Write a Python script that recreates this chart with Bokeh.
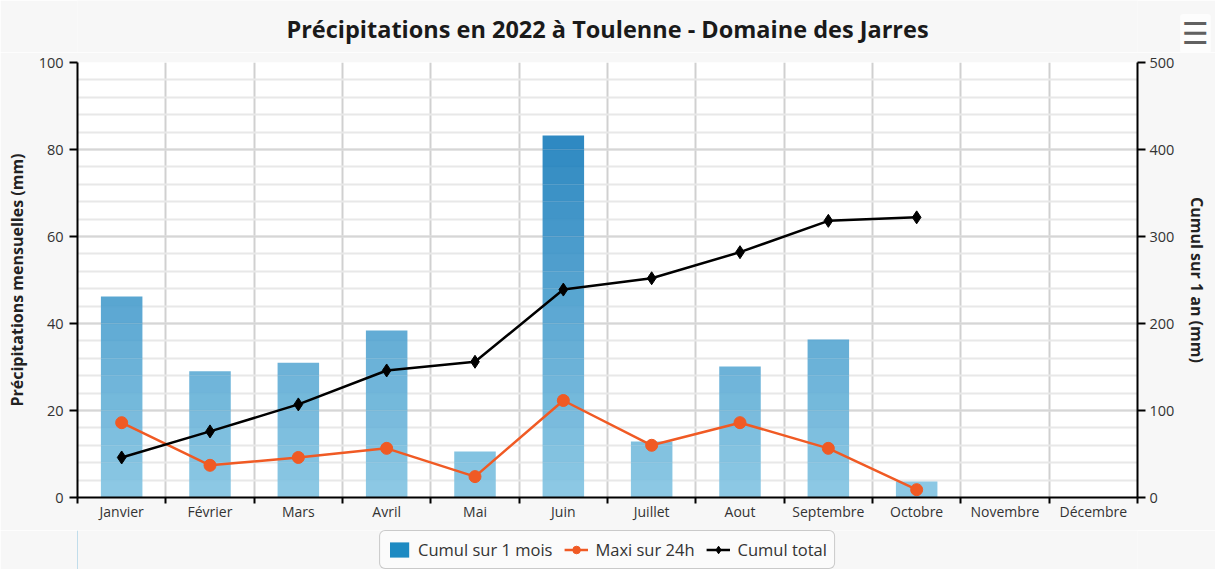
from bokeh.plotting import figure
from bokeh.layouts import column
from bokeh.models import (Range1d, LinearAxis, FixedTicker, Legend, LegendItem,
                          ColumnDataSource, Label)
from bokeh.embed import file_html
from bokeh.resources import INLINE

# ---------------- data ----------------
title_text = "Précipitations en 2022 à Toulenne - Domaine des Jarres"
months = ["Janvier", "Février", "Mars", "Avril", "Mai", "Juin", "Juillet",
          "Aout", "Septembre", "Octobre", "Novembre", "Décembre"]
cumul_mois = [46.2, 29.0, 31.0, 38.4, 10.6, 83.2, 12.9, 30.1, 36.3, 3.7]
maxi_24h = [17.2, 7.4, 9.2, 11.3, 4.8, 22.3, 12.0, 17.2, 11.3, 1.8]
cumul_total = [46, 76, 107, 146, 156, 239, 252, 282, 318, 322]
left_ticks = [0, 20, 40, 60, 80, 100]
right_ticks = [0, 100, 200, 300, 400, 500]
series_names = ["Cumul sur 1 mois", "Maxi sur 24h", "Cumul total"]

FONT = "Open Sans"
TXT = "#333333"
BG = "#f7f7f7"
W = 1215
FRAME_W = 1060
orange = "#f05a24"

# ================= header (title + menu icon) =================
HEAD_H = 52
head = figure(width=W, height=HEAD_H, output_backend="svg", toolbar_location=None,
              x_range=Range1d(0, 1), y_range=Range1d(0, 1),
              x_axis_type=None, y_axis_type=None, min_border=0)
head.grid.visible = False
head.background_fill_color = BG
head.border_fill_color = BG
head.outline_line_color = None
# the header frame is aligned with the chart frame below it
head.add_layout(Label(x=FRAME_W / 2, y=HEAD_H - 28, x_units="screen", y_units="screen",
                      text=title_text, text_font=FONT, text_font_size="23.5px",
                      text_font_style="bold", text_color="#1a1a1a",
                      text_align="center", text_baseline="middle"))
head.add_layout(Label(x=58, y=HEAD_H - 33, x_units="screen", y_units="screen",
                      text="☰", text_font="DejaVu Sans", text_font_size="30px",
                      text_color="#606060", text_align="center",
                      text_baseline="middle", background_fill_color="white",
                      background_fill_alpha=0.7, padding=2, border_radius=3),
                "right")

# ================= main chart =================
p = figure(frame_width=FRAME_W, frame_height=435, output_backend="svg",
           toolbar_location=None,
           x_range=Range1d(0, len(months)), y_range=Range1d(0, 100),
           min_border_left=77, min_border_right=78, min_border_top=10,
           min_border_bottom=33)
p.extra_y_ranges = {"cumul": Range1d(0, 500)}
p.background_fill_color = "white"
p.border_fill_color = BG
p.outline_line_color = None

# grids
p.xgrid.ticker = FixedTicker(ticks=list(range(len(months) + 1)))
p.xgrid.grid_line_color = "#d0d0d0"
p.xgrid.grid_line_width = 2
p.ygrid.ticker = FixedTicker(ticks=left_ticks, minor_ticks=list(range(0, 101, 4)))
p.ygrid.grid_line_color = "#d6d6d6"
p.ygrid.grid_line_width = 2
p.ygrid.minor_grid_line_color = "#e8e8e8"
p.ygrid.minor_grid_line_width = 2

# bars with a vertical gradient (slices of 4 mm)
lo = (130, 196, 226)
hi = (0, 108, 178)
xs, bots, tops, cols = [], [], [], []
step = 4
for i, v in enumerate(cumul_mois):
    b = 0.0
    while b < v - 1e-9:
        t = min(b + step, v)
        f = (b + t) / 2 / 100.0
        c = tuple(int(round(lo[k] + (hi[k] - lo[k]) * f)) for k in range(3))
        xs.append(i + 0.5)
        bots.append(b)
        tops.append(t)
        cols.append("#%02x%02x%02x" % c)
        b = t
src_bars = ColumnDataSource(dict(x=xs, bottom=bots, top=tops, color=cols))
p.vbar(x="x", bottom="bottom", top="top", width=0.47, fill_color="color",
       fill_alpha=0.9, line_color=None, source=src_bars)

# lines
xc = [i + 0.5 for i in range(len(maxi_24h))]
p.line(xc, maxi_24h, line_color=orange, line_width=2.5)
p.scatter(xc, maxi_24h, marker="circle", size=12, fill_color=orange, line_color=orange)

xt = [i + 0.5 for i in range(len(cumul_total))]
p.line(xt, cumul_total, line_color="black", line_width=2.5, y_range_name="cumul")
p.scatter(xt, cumul_total, marker="diamond", size=13, fill_color="black",
          line_color="black", y_range_name="cumul")

# axes
xa = p.xaxis[0]
xa.ticker = FixedTicker(ticks=[i + 0.5 for i in range(len(months))],
                        minor_ticks=list(range(len(months) + 1)))
xa.major_label_overrides = {i + 0.5: m for i, m in enumerate(months)}
xa.major_tick_line_color = None
xa.major_tick_out = 0
xa.major_tick_in = 0
xa.minor_tick_line_color = "black"
xa.minor_tick_line_width = 2
xa.minor_tick_out = 6
xa.minor_tick_in = 0
xa.axis_line_color = "black"
xa.axis_line_width = 2
xa.major_label_text_font = FONT
xa.major_label_text_font_size = "14px"
xa.major_label_text_color = TXT
xa.major_label_standoff = -2

ya = p.yaxis[0]
ya.ticker = FixedTicker(ticks=left_ticks)
ya.axis_label = "Précipitations mensuelles (mm)"

yr = LinearAxis(y_range_name="cumul", ticker=FixedTicker(ticks=right_ticks),
                axis_label="Cumul sur 1 an (mm)")
p.add_layout(yr, "right")

for ax in (ya, yr):
    ax.axis_line_color = "black"
    ax.axis_line_width = 2
    ax.major_tick_line_color = "black"
    ax.major_tick_line_width = 2
    ax.major_tick_out = 8
    ax.major_tick_in = 0
    ax.minor_tick_line_color = None
    ax.major_label_text_font = FONT
    ax.major_label_text_font_size = "14.5px"
    ax.major_label_text_color = TXT
    ax.axis_label_text_font = FONT
    ax.axis_label_text_font_size = "16px"
    ax.axis_label_text_font_style = "bold"
    ax.axis_label_text_color = "#222222"
ya.major_label_standoff = 6
ya.axis_label_standoff = 8
yr.major_label_standoff = 4
yr.axis_label_standoff = 9

# ================= legend strip =================
LEG_H = 39
leg = figure(width=W, height=LEG_H, output_backend="svg", toolbar_location=None,
             x_range=Range1d(0, 1), y_range=Range1d(0, 1),
             x_axis_type=None, y_axis_type=None, min_border=0)
leg.grid.visible = False
leg.background_fill_color = BG
leg.border_fill_color = BG
leg.outline_line_color = None
# hidden proxies (outside the visible range) that only feed the legend
pb = leg.vbar(x=[-5], top=[1], width=0.5, fill_color="#1d8ac2", line_color=None)
po_l = leg.line([-6, -5], [0, 0], line_color=orange, line_width=2.5)
po_m = leg.scatter([-5], [0], marker="circle", size=11, fill_color=orange,
                   line_color=orange)
pk_l = leg.line([-6, -5], [0, 0], line_color="black", line_width=2.5)
pk_m = leg.scatter([-5], [0], marker="diamond", size=12, fill_color="black",
                   line_color="black")

legend = Legend(items=[
    LegendItem(label=series_names[0], renderers=[pb]),
    LegendItem(label=series_names[1], renderers=[po_l, po_m]),
    LegendItem(label=series_names[2], renderers=[pk_l, pk_m]),
], orientation="horizontal", location="top_center")
legend.label_text_font = FONT
legend.label_text_font_size = "16.5px"
legend.label_text_color = TXT
legend.background_fill_color = "#fbfbfb"
legend.border_line_color = "#9a9a9a"
legend.border_line_width = 1.5
legend.glyph_width = 24
legend.glyph_height = 19
legend.spacing = 12
legend.padding = 7
legend.margin = 0
legend.label_standoff = 7
legend.label_height = 19
if "border_radius" in Legend.properties():
    legend.border_radius = 6
leg.add_layout(legend, "center")

layout = column(head, p, leg, spacing=0)
open("out.html", "w").write(file_html(layout, INLINE))
